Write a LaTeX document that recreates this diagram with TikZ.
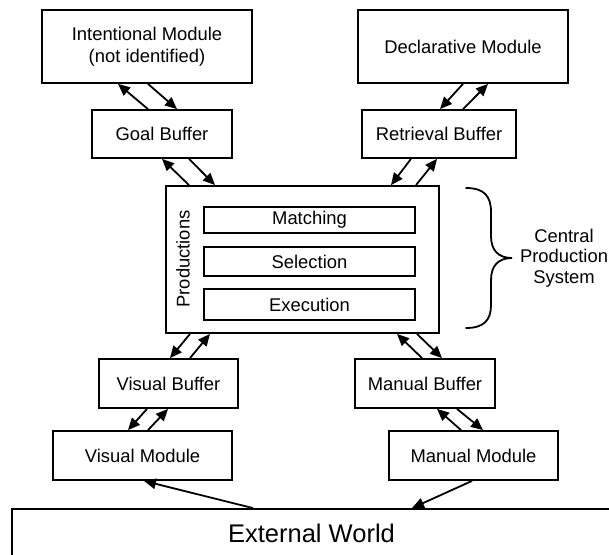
\documentclass[tikz,border=0pt]{standalone}
\usepackage{fontspec}
\setmainfont{Liberation Sans}
\usetikzlibrary{arrows.meta}

\begin{document}
\begin{tikzpicture}[x=1pt,y=-1pt,
  box/.style={draw, line width=1.8pt, inner sep=0pt, align=center,
    font=\fontsize{18.4}{22}\selectfont},
  stage/.style={box, minimum width=211pt},
  arr/.style={line width=1.8pt, -{Triangle[length=12pt,width=10.5pt]}},
  brace/.style={line width=1.8pt, line cap=round}]
  \useasboundingbox (0,0) rectangle (609,554);

  % modules and buffers
  \node[box, minimum width=210pt, minimum height=73pt] (intent) at (147,46.5)
    {Intentional Module\\(not identified)};
  \node[box, minimum width=210pt, minimum height=73pt] (decl) at (463,46.5)
    {Declarative Module};
  \node[box, minimum width=140pt, minimum height=48pt] (goal) at (162,134) {Goal Buffer};
  \node[box, minimum width=154pt, minimum height=48pt] (retr) at (439,134) {Retrieval Buffer};

  % central production system
  \node[box, minimum width=273pt, minimum height=147pt] (central) at (302.5,259.5) {};
  \node[stage, minimum height=26pt] (match) at (309.5,220) {Matching};
  \node[stage, minimum height=29pt] (select) at (309.5,261.5) {Selection};
  \node[stage, minimum height=31pt] (exec) at (309.5,304.5) {Execution};
  \node[font=\fontsize{18.4}{22}\selectfont, rotate=90, inner sep=0pt] (prod) at (183,259) {Productions};

  \node[box, minimum width=139pt, minimum height=49pt] (vbuf) at (168.5,383.5) {Visual Buffer};
  \node[box, minimum width=140pt, minimum height=49pt] (mbuf) at (425,383.5) {Manual Buffer};
  \node[box, minimum width=179pt, minimum height=49pt] (vmod) at (142.5,455.5) {Visual Module};
  \node[box, minimum width=169pt, minimum height=49pt] (mmod) at (473.5,455.5) {Manual Module};

  \node[draw, line width=1.8pt, inner sep=0pt, minimum width=599pt, minimum height=48pt,
    font=\fontsize{25.5}{30}\selectfont] (world) at (311.5,533) {External World};

  % brace and its label
  \draw[brace] (466,188) .. controls (484,188) and (491,196) .. (491,212)
    -- (491,236) .. controls (491,250) and (498,258) .. (512,258)
    .. controls (498,258) and (491,266) .. (491,280)
    -- (491,305) .. controls (491,320) and (484,328) .. (466,328);
  \node[align=center, inner sep=0pt, font=\fontsize{18.4}{20.5}\selectfont] (cps) at (564,258)
    {Central\\Production\\System};

  % intentional <-> goal
  \draw[arr] ([xshift=-14pt]goal.north) -- ([xshift=-29pt]intent.south);
  \draw[arr] ([xshift=1pt]intent.south) -- ([xshift=15pt]goal.north);
  % declarative <-> retrieval
  \draw[arr] ([xshift=0pt]decl.south) -- ([xshift=1pt]retr.north);
  \draw[arr] ([xshift=24pt]retr.north) -- ([xshift=25pt]decl.south);
  % goal <-> central
  \draw[arr] ([xshift=-113.5pt]central.north) -- ([xshift=0pt]goal.south);
  \draw[arr] ([xshift=27pt]goal.south) -- ([xshift=-87.5pt]central.north);
  % retrieval <-> central
  \draw[arr] ([xshift=-28pt]retr.south) -- ([xshift=88.5pt]central.north);
  \draw[arr] ([xshift=113.5pt]central.north) -- ([xshift=-2pt]retr.south);
  % central <-> visual buffer
  \draw[arr] ([xshift=-112.5pt]central.south) -- ([xshift=1.5pt]vbuf.north);
  \draw[arr] ([xshift=21.5pt]vbuf.north) -- ([xshift=-92.5pt]central.south);
  % central <-> manual buffer
  \draw[arr] ([xshift=-3pt]mbuf.north) -- ([xshift=94.5pt]central.south);
  \draw[arr] ([xshift=114.5pt]central.south) -- ([xshift=17pt]mbuf.north);
  % visual buffer <-> visual module
  \draw[arr] ([xshift=-21.5pt]vbuf.south) -- ([xshift=-14.5pt]vmod.north);
  \draw[arr] ([xshift=5.5pt]vmod.north) -- ([xshift=-0.5pt]vbuf.south);
  % manual buffer <-> manual module
  \draw[arr] ([xshift=-12.5pt]mmod.north) -- ([xshift=12pt]mbuf.south);
  \draw[arr] ([xshift=32pt]mbuf.south) -- ([xshift=9.5pt]mmod.north);
  % external world
  \draw[arr] ([xshift=-58.5pt]world.north) -- ([xshift=1.5pt]vmod.south);
  \draw[arr] ([xshift=-1.5pt]mmod.south) -- ([xshift=100.5pt]world.north);
\end{tikzpicture}
\end{document}
